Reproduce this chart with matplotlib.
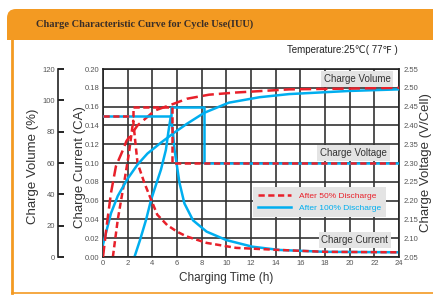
import numpy as np
import matplotlib
matplotlib.use('Agg')
import matplotlib.pyplot as plt
from matplotlib.patches import FancyBboxPatch, Rectangle
from matplotlib.lines import Line2D

plt.rcParams['font.family'] = ['Liberation Sans', 'DejaVu Sans']

# --- values (time in hours) ---
# charge current (CA)
cur50_t = [0.8, 1.2, 1.75, 2.1, 2.3, 2.45, 2.6, 2.8, 3.35, 3.9, 4.4, 5.2, 6.0, 6.75, 8.4, 10.8, 14.3, 18, 24]
cur50 = [0, 0.04, 0.082, 0.11, 0.13, 0.145, 0.125, 0.10, 0.079, 0.061, 0.045, 0.034, 0.027, 0.022, 0.015, 0.0097, 0.0075, 0.0055, 0.005]
cur100_t = [2.55, 3.0, 3.5, 3.9, 4.7, 5.1, 5.3, 5.5, 5.65, 5.8, 6.2, 6.6, 7.3, 8.4, 10.0, 12.1, 14.3, 18, 24]
cur100 = [0, 0.018, 0.04, 0.061, 0.093, 0.114, 0.133, 0.15, 0.135, 0.114, 0.079, 0.057, 0.039, 0.027, 0.018, 0.011, 0.0075, 0.0055, 0.005]

# charge volume (%)
vol50_t = [0, 0.3, 0.65, 1.05, 1.6, 1.9, 2.8, 4.2, 5.8, 6.8, 8.6, 10.8, 15.1, 20, 24]
vol50 = [0, 20, 41, 58, 68, 74, 84, 93.5, 98, 101, 103.6, 105, 107, 107.5, 108]
vol100_t = [0, 0.65, 1.2, 2.0, 2.8, 3.6, 4.7, 5.8, 6.8, 8.2, 10.2, 12.7, 15.1, 20, 24]
vol100 = [8, 28, 39, 50, 59, 66, 73, 79.5, 85, 92, 98.5, 102, 104, 106, 107]

# charge voltage (V/cell)
volt50_t = [0, 2.4, 2.4, 5.6, 5.6, 24]
volt50 = [2.425, 2.425, 2.45, 2.45, 2.30, 2.30]
volt100_t = [0, 5.5, 5.5, 8.2, 8.2, 24]
volt100 = [2.425, 2.425, 2.45, 2.45, 2.30, 2.30]

legend_labels = ['After 50% Discharge', 'After 100% Discharge']

RED = '#e8202a'
BLUE = '#00aeef'
ORANGE = '#f39a22'

fig = plt.figure(figsize=(4.33, 2.95), dpi=100)

# page frame and header, in pixel units
bg = fig.add_axes([0, 0, 1, 1], zorder=-1)
bg.set_xlim(0, 433)
bg.set_ylim(295, 0)
bg.axis('off')
bg.add_patch(FancyBboxPatch((7, 9), 440, 31, boxstyle='round,pad=0,rounding_size=9', fc=ORANGE, ec='none'))
bg.add_patch(Rectangle((7, 25), 440, 15, fc=ORANGE, ec='none'))
bg.plot([11.5, 11.5], [40, 293], color=ORANGE, lw=2)
bg.plot([11.5, 433], [293, 293], color=ORANGE, lw=1.2)
bg.text(36, 24.5, 'Charge Characteristic Curve for Cycle Use(IUU)', family='Liberation Serif',
        fontsize=7.5, weight='bold', color='#3a2e28', va='center')
bg.text(398, 50, 'Temperature:25℃( 77℉ )', fontsize=7, ha='right', va='center', color='#222')

# main axes: charge current
ax = fig.add_axes([103/433, 38/295, 296/433, 188/295])
ax.set_xlim(0, 24)
ax.set_ylim(0, 0.2)
ax.set_xticks(range(0, 25, 2))
ax.set_yticks(np.arange(0, 0.201, 0.02))
ax.yaxis.set_major_formatter('{x:.2f}')
ax.grid(True, color='#333333', lw=1.2)
ax.tick_params(length=0, labelsize=5.5, labelcolor='#555555', pad=2.5)
for s in ax.spines.values():
    s.set_linewidth(1.2)
    s.set_color('#222222')
ax.set_xlabel('Charging Time (h)', fontsize=8.5, color='#333333')
ax.xaxis.set_label_coords(0.416, -0.08)
ax.set_ylabel('Charge Current (CA)', fontsize=9.5, color='#333333')
ax.yaxis.set_label_coords(-0.058, 0.48)

ax.plot(cur100_t, cur100, color=BLUE, lw=1.8)
ax.plot(cur50_t, cur50, color=RED, lw=1.8, ls=(0, (2.5, 1.4)))

# charge volume axis, offset to the left
ax_vol = ax.twinx()
ax_vol.set_ylim(0, 120)
ax_vol.set_yticks(range(0, 121, 20))
ax_vol.yaxis.set_label_position('left')
ax_vol.yaxis.set_ticks_position('left')
ax_vol.spines['left'].set_position(('axes', -0.152))
for k in ['top', 'bottom', 'right']:
    ax_vol.spines[k].set_visible(False)
ax_vol.spines['left'].set_linewidth(1.2)
ax_vol.spines['left'].set_color('#222222')
ax_vol.tick_params(direction='in', length=4, width=1.2, labelsize=5.5, labelcolor='#555555', pad=2)
ax_vol.set_ylabel('Charge Volume (%)', fontsize=9.5, color='#333333')
ax_vol.yaxis.set_label_coords(-0.215, 0.48)

ax_vol.plot(vol100_t, vol100, color=BLUE, lw=1.8)
ax_vol.plot(vol50_t, vol50, color=RED, lw=1.8, ls=(0, (4.5, 2)))

# charge voltage axis on the right
ax_v = ax.twinx()
ax_v.set_ylim(2.05, 2.55)
ax_v.set_yticks(np.arange(2.05, 2.551, 0.05))
ax_v.yaxis.set_major_formatter('{x:.2f}')
for s in ax_v.spines.values():
    s.set_visible(False)
ax_v.tick_params(length=0, labelsize=5.5, labelcolor='#555555', pad=3)
ax_v.set_ylabel('Charge Voltage (V/Cell)', fontsize=9.5, color='#333333')
ax_v.yaxis.set_label_coords(1.07, 0.5)

ax_v.plot(volt100_t, volt100, color=BLUE, lw=1.8)
ax_v.plot(volt50_t, volt50, color=RED, lw=1.8, ls=(0, (2.5, 1.4)))

box = dict(fc='#e4e4e4', ec='none', pad=2)
for label, (x, y) in zip(['Charge Volume', 'Charge Voltage', 'Charge Current'],
                         [(0.858, 0.947), (0.846, 0.553), (0.851, 0.09)]):
    ax_v.text(x, y, label, transform=ax_v.transAxes, fontsize=7, color='#333333',
              ha='center', va='center', bbox=box, zorder=5)

handles = [Line2D([], [], color=RED, lw=1.8, ls=(0, (2.5, 1.4))),
           Line2D([], [], color=BLUE, lw=1.8)]
leg = ax_v.legend(handles, legend_labels, loc='lower left', bbox_to_anchor=(0.507, 0.213),
                  borderaxespad=0, fontsize=6, handlelength=4, handletextpad=0.9,
                  fancybox=False, facecolor='#e4e4e4', edgecolor='none', framealpha=1,
                  labelspacing=0.5, borderpad=0.6, labelcolor='linecolor')

fig.savefig('out.png', dpi=100)
